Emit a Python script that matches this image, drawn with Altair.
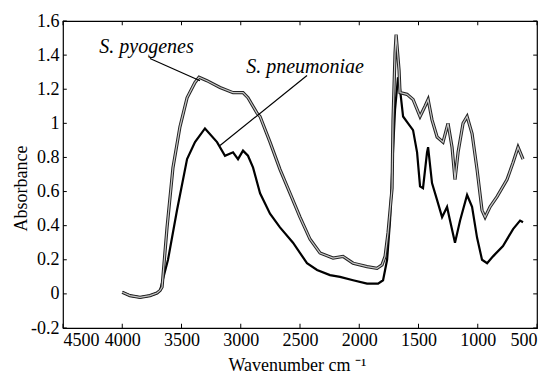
import altair as alt
import pandas as pd

# ---- data ----
pyo_wn = [4000, 3935, 3850, 3766, 3707, 3681, 3664, 3622, 3572, 3513, 3453, 3386, 3352,
          3285, 3175, 3065, 2981, 2939, 2863, 2837, 2753, 2669, 2584, 2500, 2415, 2331,
          2221, 2137, 2052, 1934, 1850, 1808, 1782, 1757, 1723, 1715, 1698, 1689, 1664,
          1656, 1597, 1546, 1487, 1445, 1419, 1386, 1343, 1293, 1251, 1217, 1192, 1166,
          1124, 1090, 1048, 1006, 964, 938, 896, 837, 753, 702, 660, 618]
pyo_ab = [0.01, -0.01, -0.02, -0.01, 0.005, 0.02, 0.04, 0.39, 0.74, 0.98, 1.15, 1.24, 1.27,
          1.25, 1.21, 1.18, 1.18, 1.15, 1.06, 1.04, 0.89, 0.73, 0.59, 0.45, 0.32, 0.24,
          0.21, 0.22, 0.18, 0.16, 0.15, 0.17, 0.22, 0.36, 0.62, 1.02, 1.41, 1.52, 1.31,
          1.18, 1.17, 1.14, 1.04, 1.10, 1.14, 1.02, 0.92, 0.89, 1.00, 0.86, 0.67, 0.83,
          1.00, 1.04, 0.94, 0.73, 0.49, 0.45, 0.51, 0.57, 0.67, 0.77, 0.86, 0.79]

pne_wn = [4000, 3935, 3850, 3766, 3707, 3681, 3614, 3538, 3453, 3386, 3302, 3200, 3133,
          3065, 3023, 2981, 2939, 2896, 2837, 2753, 2669, 2559, 2441, 2356, 2247, 2162,
          2052, 1934, 1841, 1799, 1765, 1740, 1715, 1698, 1673, 1664, 1630, 1588, 1546,
          1512, 1487, 1462, 1428, 1419, 1386, 1343, 1301, 1259, 1234, 1192, 1149, 1090,
          1048, 1006, 964, 921, 871, 787, 702, 643, 618]
pne_ab = [0.01, -0.01, -0.02, -0.01, 0.005, 0.02, 0.20, 0.49, 0.79, 0.89, 0.97, 0.89, 0.81,
          0.83, 0.79, 0.84, 0.81, 0.74, 0.59, 0.47, 0.39, 0.30, 0.18, 0.14, 0.11, 0.10,
          0.08, 0.06, 0.06, 0.08, 0.20, 0.43, 0.84, 1.08, 1.27, 1.25, 1.04, 1.00, 0.96,
          0.83, 0.63, 0.62, 0.83, 0.86, 0.65, 0.55, 0.45, 0.51, 0.43, 0.30, 0.43, 0.58,
          0.51, 0.33, 0.20, 0.18, 0.22, 0.28, 0.38, 0.43, 0.42]

x_ticks = [4500, 4000, 3500, 3000, 2500, 2000, 1500, 1000, 500]
y_ticks = [-0.2, 0, 0.2, 0.4, 0.6, 0.8, 1.0, 1.2, 1.4, 1.6]

labels = ["S. pyogenes", "S. pneumoniae"]
label_wn = [3795, 2457]
label_ab = [1.45, 1.33]
leader_wn = [3766, 2441]
leader_ab = [1.38, 1.28]
leader_wn2 = [3344, 3175]
leader_ab2 = [1.25, 0.87]

# ---- build tables ----
pyo = pd.DataFrame({"wn": pyo_wn, "ab": pyo_ab})
pne = pd.DataFrame({"wn": pne_wn, "ab": pne_ab})
lab = pd.DataFrame({"t": labels, "wn": label_wn, "ab": label_ab})
lead = pd.DataFrame({"wn": leader_wn, "ab": leader_ab, "wn2": leader_wn2, "ab2": leader_ab2})

XMIN, XMAX = 500, 4500
YMIN, YMAX = -0.2, 1.6
tx = pd.DataFrame({"v": x_ticks})
ty = pd.DataFrame({"v": y_ticks})

serif = "Liberation Serif"
xs = alt.Scale(domain=[XMIN, XMAX], reverse=True, nice=False, zero=False)
ys = alt.Scale(domain=[YMIN, YMAX], nice=False, zero=False)

xax = alt.Axis(values=x_ticks, format="d", tickSize=0, domain=False, grid=False,
               labelFont=serif, labelFontSize=18, labelColor="black", labelPadding=3,
               title="Wavenumber cm ⁻¹", titleFont=serif, titleFontSize=18,
               titleFontWeight="normal", titleColor="black", titleX=234, titleY=37,
               titleBaseline="middle")
yax = alt.Axis(values=y_ticks, tickSize=0, domain=False, grid=False,
               labelExpr="replace(format(datum.value, '.1~f'), '−', '-')",
               labelFont=serif, labelFontSize=18, labelColor="black", labelPadding=4,
               title="Absorbance", titleFont=serif, titleFontSize=18,
               titleFontWeight="normal", titleColor="black", titleX=-42, titleY=167,
               titleAngle=270, titleBaseline="middle", titleAlign="center")

X = lambda f="wn": alt.X(f"{f}:Q", scale=xs, axis=xax)
Y = lambda f="ab": alt.Y(f"{f}:Q", scale=ys, axis=yax)

pyo_outer = alt.Chart(pyo).mark_line(color="#222", strokeWidth=3.2).encode(x=X(), y=Y())
pyo_inner = alt.Chart(pyo).mark_line(color="#c8c8c8", strokeWidth=1.2).encode(x=X(), y=Y())
pne_line = alt.Chart(pne).mark_line(color="black", strokeWidth=2.2).encode(x=X(), y=Y())

leaders = alt.Chart(lead).mark_rule(color="black", strokeWidth=1.2).encode(
    x=X(), y=Y(), x2="wn2:Q", y2="ab2:Q")
texts = alt.Chart(lab).mark_text(font=serif, fontSize=20, fontStyle="italic",
                                 color="black").encode(x=X(), y=Y(), text="t:N")

tl = 0.025
tk = 32
bt = alt.Chart(tx).transform_calculate(a=f"{YMIN}", b=f"{YMIN + tl}").mark_rule(color="black").encode(
    x=X("v"), y=Y("a"), y2="b:Q")
tt = alt.Chart(tx).transform_calculate(a=f"{YMAX}", b=f"{YMAX - tl}").mark_rule(color="black").encode(
    x=X("v"), y=Y("a"), y2="b:Q")
lt = alt.Chart(ty).transform_calculate(a=f"{XMAX}", b=f"{XMAX - tk}").mark_rule(color="black").encode(
    y=Y("v"), x=X("a"), x2="b:Q")
rt = alt.Chart(ty).transform_calculate(a=f"{XMIN}", b=f"{XMIN + tk}").mark_rule(color="black").encode(
    y=Y("v"), x=X("a"), x2="b:Q")

chart = alt.layer(bt, tt, lt, rt, pne_line, pyo_outer, pyo_inner, leaders, texts).properties(
    width=474, height=307,
    autosize=alt.AutoSizeParams(type="none"),
    padding={"left": 63, "top": 21, "right": 16, "bottom": 48},
    background="white",
).configure_view(stroke="black", strokeWidth=1.2)

chart.save("out.html", embed_options={"renderer": "svg", "actions": False})
